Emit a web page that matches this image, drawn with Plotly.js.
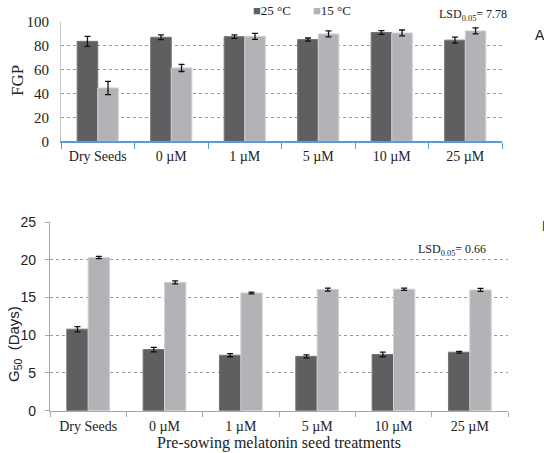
<!DOCTYPE html>
<html>
<head>
<meta charset="utf-8">
<script src="https://cdn.plot.ly/plotly-3.0.1.min.js"></script>
<style>html,body{margin:0;padding:0;background:#fff;}#chart{width:544px;height:453px;}</style>
</head>
<body>
<div id="chart"></div>
<script>
const categories = ['Dry Seeds', '0 µM', '1 µM', '5 µM', '10 µM', '25 µM'];
const seriesNames = ['25 °C', '15 °C'];
const fgp25 = [83.8, 87.2, 87.7, 85.3, 91.2, 84.8];
const fgp25Err = [4.2, 2.0, 1.5, 1.3, 1.5, 2.5];
const fgp15 = [44.7, 61.5, 88.0, 90.0, 90.8, 92.5];
const fgp15Err = [5.5, 3.0, 2.5, 2.5, 2.5, 2.5];
const g25 = [10.8, 8.1, 7.35, 7.2, 7.45, 7.75];
const g25Err = [0.35, 0.3, 0.2, 0.2, 0.3, 0.12];
const g15 = [20.3, 17.0, 15.6, 16.05, 16.1, 16.0];
const g15Err = [0.15, 0.2, 0.12, 0.2, 0.15, 0.2];
const fgpTicks = [0, 20, 40, 60, 80, 100];
const gTicks = [0, 5, 10, 15, 20, 25];

const dark = '#5f5f61';
const light = '#b3b3b7';
const serif = 'Liberation Serif, Times New Roman, serif';
const sans = 'Liberation Sans, Arial, sans-serif';

function bar(y, err, name, color, edge, xa, ya) {
  return {
    type: 'bar', x: categories, y: y, name: name, xaxis: xa, yaxis: ya,
    showlegend: false,
    marker: {color: color, line: {color: edge, width: 1}},
    error_y: {type: 'data', array: err, visible: true, color: '#111', thickness: 1.3, width: 3}
  };
}

const data = [
  bar(fgp25, fgp25Err, seriesNames[0], dark, '#757577', 'x', 'y'),
  bar(fgp15, fgp15Err, seriesNames[1], light, '#d2d2d4', 'x', 'y'),
  bar(g25, g25Err, seriesNames[0], dark, '#757577', 'x2', 'y2'),
  bar(g15, g15Err, seriesNames[1], light, '#d2d2d4', 'x2', 'y2')
];

function py(px) { return 1 - px / 453; }
function pxx(px) { return px / 544; }

function note(text, x, y, font, extra) {
  return Object.assign({text: text, xref: 'paper', yref: 'paper', x: pxx(x), y: py(y),
    xanchor: 'center', yanchor: 'middle', showarrow: false, font: font}, extra || {});
}

const layout = {
  width: 544, height: 453,
  margin: {l: 0, r: 0, t: 0, b: 0, autoexpand: false},
  paper_bgcolor: '#fff', plot_bgcolor: '#fff',
  barmode: 'group', bargap: 0.44, bargroupgap: 0,
  showlegend: false,
  xaxis: {domain: [pxx(61), pxx(502)], anchor: 'y', type: 'category', automargin: false,
    showline: true, linecolor: '#5b9bd5', linewidth: 1.5,
    ticks: 'outside', tickson: 'boundaries', ticklen: 6, tickcolor: '#5b9bd5', tickwidth: 1,
    ticklabelstandoff: 1,
    tickfont: {family: serif, size: 14, color: '#222'}, showgrid: false},
  yaxis: {domain: [py(141.3), py(22)], anchor: 'x', range: [0, 100], automargin: false,
    tickvals: fgpTicks, showline: true, linecolor: '#c8c8c8', linewidth: 1,
    ticks: 'outside', ticklen: 8, tickcolor: 'rgba(0,0,0,0)',
    showgrid: true, gridcolor: '#9a9a9a', griddash: 'dot', gridwidth: 1,
    zeroline: false, tickfont: {family: serif, size: 15, color: '#222'}},
  xaxis2: {domain: [pxx(50), pxx(508)], anchor: 'y2', type: 'category', automargin: false,
    showline: true, linecolor: '#a8a8a8', linewidth: 1.2,
    ticks: 'outside', tickson: 'boundaries', ticklen: 5, tickcolor: '#a8a8a8',
    ticklabelstandoff: 2,
    tickfont: {family: serif, size: 14, color: '#222'}, showgrid: false},
  yaxis2: {domain: [py(410.7), py(222)], anchor: 'x2', range: [0, 25], automargin: false,
    tickvals: gTicks, showline: true, linecolor: '#a8a8a8', linewidth: 1.2,
    ticks: 'outside', ticklen: 4, tickcolor: '#a8a8a8', ticklabelstandoff: 6,
    showgrid: true, gridcolor: '#9a9a9a', griddash: 'dot', gridwidth: 1,
    zeroline: false, tickfont: {family: sans, size: 14, color: '#222'}},
  annotations: [
    note('<span style="color:' + dark + '">■</span>' + seriesNames[0], 251, 10,
      {family: serif, size: 13, color: '#222'}, {xanchor: 'left'}),
    note('<span style="color:' + light + '">■</span>' + seriesNames[1], 311, 10,
      {family: serif, size: 13, color: '#222'}, {xanchor: 'left'}),
    note('FGP', 17, 81, {family: serif, size: 17, color: '#222'}, {textangle: -90}),
    note('G<sub>50</sub>  (Days)', 14, 344, {family: sans, size: 15, color: '#222'}, {textangle: -90}),
    note('Pre-sowing melatonin seed treatments', 279, 443, {family: serif, size: 16, color: '#222'}),
    note('LSD<sub>0.05</sub>= 7.78', 473, 15, {family: serif, size: 12, color: '#222'}),
    note('LSD<sub>0.05</sub>= 0.66', 452, 250, {family: serif, size: 12, color: '#222'}),
    note('A', 533, 35, {family: sans, size: 14, color: '#222'}, {xanchor: 'left'}),
    note('B', 540, 226, {family: sans, size: 14, color: '#222'}, {xanchor: 'left'})
  ]
};

Plotly.newPlot('chart', data, layout, {displayModeBar: false, staticPlot: true});
</script>
</body>
</html>
